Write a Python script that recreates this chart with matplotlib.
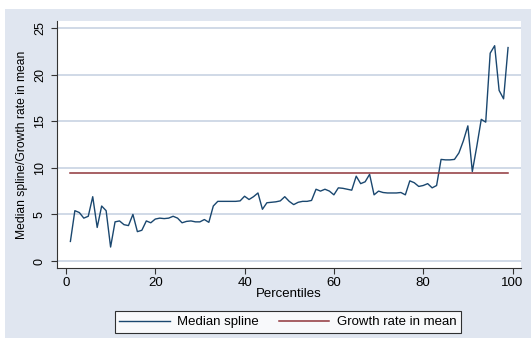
import matplotlib
matplotlib.use("Agg")
import matplotlib.pyplot as plt
import numpy as np

# percentile grid and the median spline of growth by percentile
percentiles = np.arange(1, 100)
median_spline = [
    2.1, 5.4, 5.2, 4.6, 4.8, 6.9, 3.6, 5.9, 5.4, 1.5,
    4.2, 4.3, 3.9, 3.8, 5.0, 3.15, 3.3, 4.3, 4.1, 4.5,
    4.6, 4.55, 4.6, 4.8, 4.6, 4.1, 4.25, 4.3, 4.2, 4.2,
    4.45, 4.15, 5.9, 6.4, 6.4, 6.4, 6.4, 6.4, 6.45, 6.95,
    6.6, 6.9, 7.3, 5.55, 6.25, 6.3, 6.35, 6.45, 6.9, 6.4,
    6.05, 6.3, 6.4, 6.4, 6.5, 7.7, 7.5, 7.7, 7.5, 7.1,
    7.85, 7.8, 7.7, 7.6, 9.1, 8.3, 8.5, 9.3, 7.1, 7.5,
    7.35, 7.3, 7.3, 7.3, 7.35, 7.1, 8.6, 8.4, 8.0, 8.1,
    8.3, 7.85, 8.1, 10.9, 10.85, 10.85, 10.9, 11.6, 12.9, 14.5,
    9.6, 12.3, 15.2, 14.9, 22.3, 23.1, 18.3, 17.4, 22.9,
]
growth_mean = 9.4

x_ticks = [0, 20, 40, 60, 80, 100]
y_ticks = [0, 5, 10, 15, 20, 25]

navy = "#1a476f"
maroon = "#90353b"
bg = "#e0e6f0"
grid = "#d0d9e7"

plt.rcParams["font.family"] = ["Liberation Sans", "DejaVu Sans"]

fig = plt.figure(figsize=(5.31, 3.38), dpi=100)
fig.patch.set_facecolor("white")

# graph region (light bluish band behind everything)
band = plt.Rectangle((5 / 531, 0), 1, 1 - 9 / 338, transform=fig.transFigure,
                     facecolor=bg, edgecolor="none", zorder=-10)
fig.add_artist(band)

ax = fig.add_axes([57 / 531, 1 - 268 / 338, 464 / 531, 247 / 338])
ax.set_zorder(1)
ax.set_facecolor("white")

ax.plot(percentiles, median_spline, color=navy, lw=1.0, label="Median spline", zorder=3)
ax.plot([percentiles[0], percentiles[-1]], [growth_mean, growth_mean],
        color=maroon, lw=1.1, label="Growth rate in mean", zorder=3)

ax.set_xlim(-2.0, 101.9)
ax.set_ylim(-0.75, 25.75)
ax.set_xticks(x_ticks)
ax.set_yticks(y_ticks)
ax.yaxis.grid(True, color=grid, lw=1.4)
ax.set_axisbelow(True)

for side in ["top", "right"]:
    ax.spines[side].set_visible(False)
for side in ["left", "bottom"]:
    ax.spines[side].set_linewidth(0.8)
    ax.spines[side].set_color("#333333")

ax.tick_params(axis="both", direction="out", length=4, width=0.8,
               color="#333333", labelsize=9.5)
ax.tick_params(axis="x", pad=2.5)
ax.tick_params(axis="y", labelrotation=90, pad=4, labelsize=9)
for lab in ax.get_yticklabels():
    lab.set_va("center")

ax.set_xlabel("Percentiles", fontsize=9.5, labelpad=-1)
ax.set_ylabel("Median spline/Growth rate in mean", fontsize=8.7, labelpad=4)

leg = fig.legend(loc="center", bbox_to_anchor=(288 / 531, 1 - 322 / 338),
                 ncol=2, fontsize=9.5, frameon=True, fancybox=False,
                 handlelength=3.8, handletextpad=0.6, columnspacing=1.5,
                 borderpad=0.35, borderaxespad=0)
leg.get_frame().set_edgecolor("black")
leg.get_frame().set_linewidth(0.8)

fig.savefig("out.png", dpi=100, facecolor=fig.get_facecolor())
